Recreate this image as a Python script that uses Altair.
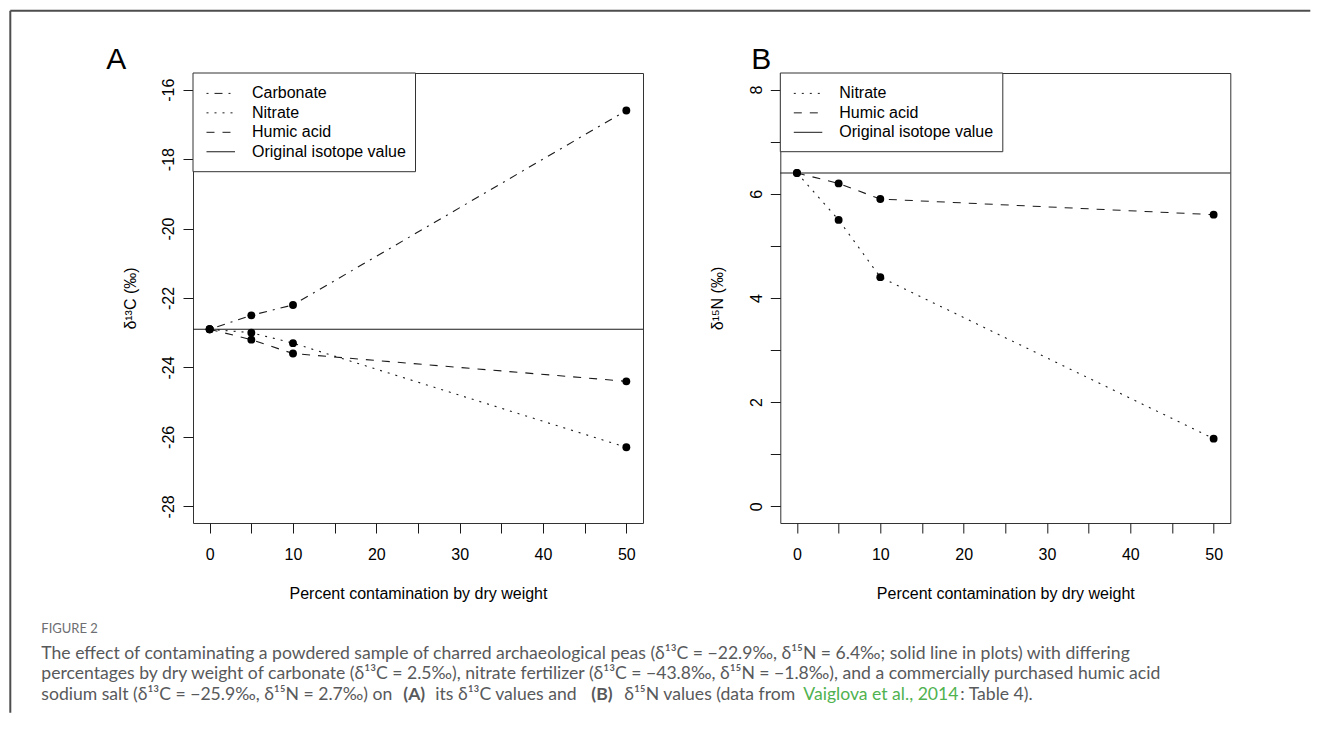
import altair as alt
import pandas as pd

# ---------------- data ----------------
pct = [0, 5, 10, 50]
d13C_carbonate = [-22.9, -22.5, -22.2, -16.6]
d13C_nitrate = [-22.9, -23.0, -23.3, -26.3]
d13C_humic = [-22.9, -23.2, -23.6, -24.4]
d15N_nitrate = [6.4, 5.5, 4.4, 1.3]
d15N_humic = [6.4, 6.2, 5.9, 5.6]
orig_d13C = -22.9
orig_d15N = 6.4

series_A = ["Carbonate", "Nitrate", "Humic acid"]
series_B = ["Nitrate", "Humic acid"]
legend_A = ["Carbonate", "Nitrate", "Humic acid", "Original isotope value"]
legend_B = ["Nitrate", "Humic acid", "Original isotope value"]

x_ticks = [0, 5, 10, 15, 20, 25, 30, 35, 40, 45, 50]
yA_ticks = [-28 + 0.5 * i for i in range(25)]
yB_ticks = [0.5 * i for i in range(17)]

caption_head = "FIGURE 2"
caption_1 = ("The effect of contaminating a powdered sample of charred archaeological peas "
             "(δ¹³C = −22.9‰, δ¹⁵N = 6.4‰; solid line in plots) with differing")
caption_2 = ("percentages by dry weight of carbonate (δ¹³C = 2.5‰), nitrate fertilizer "
             "(δ¹³C = −43.8‰, δ¹⁵N = −1.8‰), and a commercially purchased humic acid")
caption_3 = [
    ("sodium salt (δ¹³C = −25.9‰, δ¹⁵N = 2.7‰) on", "normal", "#58595b"),
    ("(A)", "bold", "#58595b"),
    ("its δ¹³C values and", "normal", "#58595b"),
    ("(B)", "bold", "#58595b"),
    ("δ¹⁵N values (data from", "normal", "#58595b"),
    ("Vaiglova et al., 2014", "normal", "#4fb24f"),
    (": Table 4).", "normal", "#58595b"),
]
caption_3_x = [40, 402, 434, 590, 623, 802, 959]

# ---------------- layout / style ----------------
W, H = 450, 450
OX, OY = 191.7, 72.3          # page position of panel A plot area
SPACING = 137.3
INK = "#1a1a1a"
FONT = "Liberation Sans"
CAP_FONT = "Lato"
CAP_SIZE = 17.6
DASH = {"Carbonate": [2, 6, 8, 6], "Nitrate": [2, 6], "Humic acid": [8, 8]}
ONE = alt.Data(values=[{}])


def rel(px, py):
    return px - OX, py - OY


def text_layer(txt, x, y, size=16, color="black", weight="normal", font=FONT,
               align="left", baseline="alphabetic"):
    return alt.Chart(ONE).mark_text(
        text=txt, align=align, baseline=baseline, font=font, fontSize=size,
        color=color, fontWeight=weight
    ).encode(x=alt.value(x), y=alt.value(y))


def rule_layer(x, x2, y, y2, color=INK, width=1.0, dash=None):
    kw = dict(color=color, strokeWidth=width)
    if dash is not None:
        kw["strokeDash"] = dash
    return alt.Chart(ONE).mark_rule(**kw).encode(
        x=alt.value(x), x2=alt.value(x2), y=alt.value(y), y2=alt.value(y2))


def legend_layers(items, box_h):
    layers = [alt.Chart(ONE).mark_rect(fill="white", stroke="#333", strokeWidth=1).encode(
        x=alt.value(0), x2=alt.value(222.5), y=alt.value(0), y2=alt.value(box_h))]
    for i, name in enumerate(items):
        yy = 20.4 + 19.45 * i
        layers.append(rule_layer(13.5, 42, yy, yy, dash=DASH.get(name)))
        layers.append(text_layer(name, 59, yy, baseline="middle"))
    return layers


def panel(df, series, ydom, yticks, ytitle, orig, legend_items, box_h, extra):
    x = alt.X("pct:Q", scale=alt.Scale(domain=[-2, 52], nice=False, zero=False),
              axis=alt.Axis(values=x_ticks,
                            labelExpr="datum.value % 10 == 0 ? '' + datum.value : ''",
                            title="Percent contamination by dry weight",
                            grid=False, domain=False, tickColor=INK, tickSize=10,
                            labelFont=FONT, labelFontSize=16, labelColor="black",
                            labelBaseline="alphabetic", labelPadding=26,
                            labelFlush=False, labelOverlap=False,
                            titleFont=FONT, titleFontSize=16, titleFontWeight="normal",
                            titleColor="black", titleY=75, titleBaseline="alphabetic"))
    y = alt.Y("value:Q", scale=alt.Scale(domain=ydom, nice=False, zero=False),
              axis=alt.Axis(values=yticks,
                            labelExpr="datum.value % 2 == 0 ? '' + datum.value : ''",
                            title=ytitle, grid=False, domain=False, tickColor=INK,
                            tickSize=10, labelFont=FONT, labelFontSize=16,
                            labelColor="black", labelAngle=270, labelAlign="center",
                            labelBaseline="alphabetic", labelPadding=9.2,
                            labelFlush=False, labelOverlap=False,
                            titleFont=FONT, titleFontSize=16, titleFontWeight="normal",
                            titleColor="black", titleAngle=270, titleX=-57.7,
                            titleY=225, titleAlign="center",
                            titleBaseline="alphabetic"))
    lines = alt.Chart(df).mark_line(color=INK, strokeWidth=1.1).encode(
        x=x, y=y,
        strokeDash=alt.StrokeDash("series:N",
                                  scale=alt.Scale(domain=series,
                                                  range=[DASH[s] for s in series]),
                                  legend=None))
    pts = alt.Chart(df).mark_circle(size=62, color="black", opacity=1).encode(x=x, y=y)
    orig_rule = alt.Chart(ONE).mark_rule(color=INK, strokeWidth=1.1).encode(
        y=alt.datum(orig))
    return alt.layer(orig_rule, lines, pts, *legend_layers(legend_items, box_h),
                     *extra).properties(width=W, height=H)


dfA = pd.DataFrame({
    "pct": pct * 3,
    "value": d13C_carbonate + d13C_nitrate + d13C_humic,
    "series": sum([[s] * len(pct) for s in series_A], []),
})
dfB = pd.DataFrame({
    "pct": pct * 2,
    "value": d15N_nitrate + d15N_humic,
    "series": sum([[s] * len(pct) for s in series_B], []),
})

# figure frame, panel letters and caption (positioned relative to panel A)
fx, fy = rel(9, 10)
extra_A = [
    rule_layer(fx, fx, fy, 712 - OY, color="#4d4d4d", width=2),
    rule_layer(fx, 1309 - OX, fy, fy, color="#4d4d4d", width=2),
    text_layer("A", *rel(105, 68.3), size=30),
    text_layer(caption_head, *rel(40, 632), size=13, color="#6d6e71", font=CAP_FONT),
    text_layer(caption_1, *rel(40, 658), size=CAP_SIZE, color="#58595b", font=CAP_FONT),
    text_layer(caption_2, *rel(40, 678.5), size=CAP_SIZE, color="#58595b", font=CAP_FONT),
]
for (seg, wt, col), sx in zip(caption_3, caption_3_x):
    extra_A.append(text_layer(seg, *rel(sx, 699), size=CAP_SIZE, color=col,
                              weight=wt, font=CAP_FONT))

extra_B = [text_layer("B", -29, 68.3 - OY, size=30)]

chartA = panel(dfA, series_A, [-28.48, -15.52], yA_ticks, "δ¹³C (‰)", orig_d13C,
               legend_A, 98.7, extra_A)
chartB = panel(dfB, series_B, [-0.32, 8.32], yB_ticks, "δ¹⁵N (‰)", orig_d15N,
               legend_B, 78.7, extra_B)

chart = alt.hconcat(chartA, chartB, spacing=SPACING, bounds="flush").configure_view(
    stroke="#333", strokeWidth=1
).properties(
    padding={"left": 0, "top": 1, "right": 0, "bottom": 0},
    background="white",
)

chart.save("out.html", embed_options={"renderer": "svg", "actions": False})
